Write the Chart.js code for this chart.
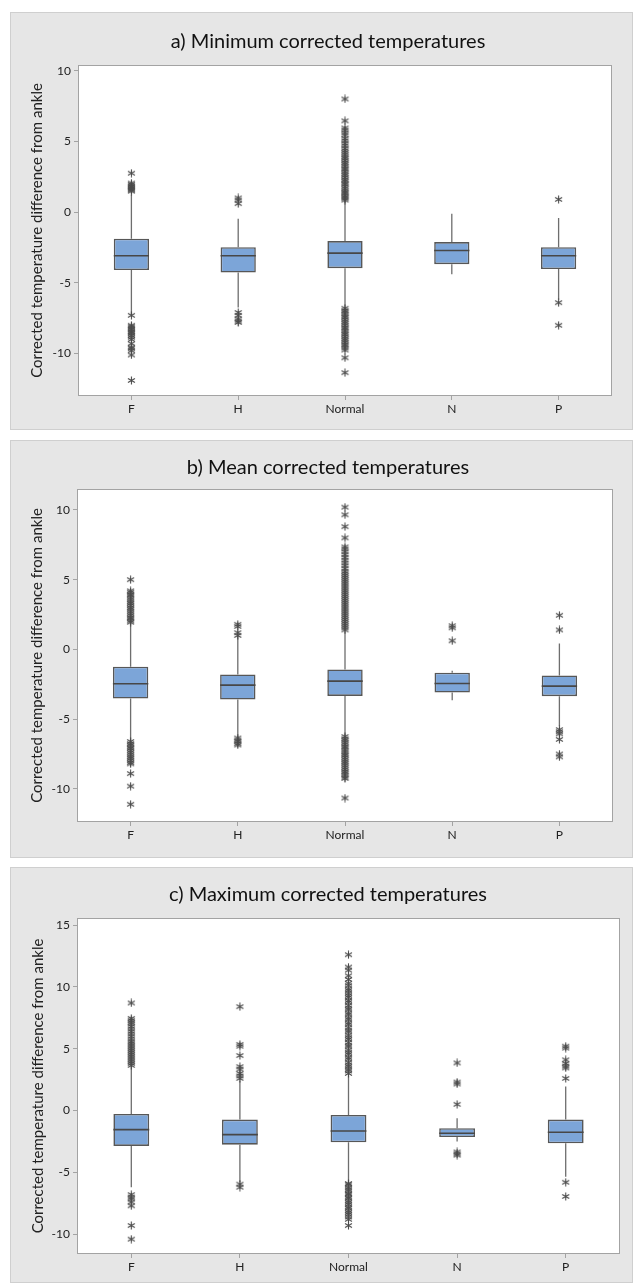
<!DOCTYPE html>
<html>
<head>
<meta charset="utf-8">
<script src="https://cdn.jsdelivr.net/npm/chart.js@4.4.0/dist/chart.umd.min.js"></script>
<style>
  body { margin: 0; background: #fff; width: 633px; height: 1283px; position: relative; overflow: hidden; }
  .panel { position: absolute; left: 10px; width: 623px; background: #e6e6e6; outline: 1px solid #cfcfcf; outline-offset: -1px; }
  .panel canvas { display: block; }
</style>
</head>
<body>
<div class="panel" style="top:12px;height:418px"><canvas id="chartMin" width="623" height="418"></canvas></div>
<div class="panel" style="top:440px;height:418px"><canvas id="chartMean" width="623" height="418"></canvas></div>
<div class="panel" style="top:867px;height:416px"><canvas id="chartMax" width="623" height="416"></canvas></div>
<script>
const categories = ['F', 'H', 'Normal', 'N', 'P'];
const yLabel = 'Corrected temperature difference from ankle';
const ticksAB = [-10, -5, 0, 5, 10];
const ticksC = [-10, -5, 0, 5, 10, 15];

// a) minimum
const minLow = [-7.26, -6.74, -6.67, -4.39, -6.2];
const minQ1 = [-4.1, -4.27, -3.96, -3.68, -4.03];
const minMed = [-3.09, -3.09, -2.9, -2.71, -3.09];
const minQ3 = [-1.88, -2.48, -2.05, -2.12, -2.48];
const minHigh = [1.23, -0.47, 0.76, -0.11, -0.42];
const minOutliers = [
  [2.75, 2.05, 1.95, 1.85, 1.78, 1.7, 1.62, 1.55, 1.48, -7.3, -8.0, -8.1, -8.2, -8.3, -8.42, -8.5, -8.6, -8.72, -8.85, -9.0, -9.3, -9.55, -9.65, -9.8, -10.1, -11.9],
  [1.0, 0.85, 0.6, -7.1, -7.3, -7.55, -7.7, -7.8],
  [8.0, 6.45, 5.95, 5.8, 5.6, 5.45, 5.2, 5.05, 4.85, 4.7, 4.5, 4.35, 4.2, 4.05, 3.9, 3.8, 3.65, 3.5, 3.4, 3.25, 3.1, 3.0, 2.85, 2.7, 2.6, 2.45, 2.3, 2.2, 2.05, 1.95, 1.8, 1.65, 1.5, 1.4, 1.3, 1.15, 1.05, 0.95, 0.85,
   -6.8, -6.95, -7.05, -7.2, -7.35, -7.45, -7.6, -7.75, -7.85, -8.0, -8.15, -8.25, -8.4, -8.55, -8.65, -8.8, -8.95, -9.05, -9.2, -9.35, -9.45, -9.6, -9.75, -10.3, -11.35],
  [],
  [0.9, -6.4, -8.0]
];

// b) mean
const meanLow = [-6.5, -6.27, -6.15, -3.64, -5.5];
const meanQ1 = [-3.52, -3.59, -3.33, -3.09, -3.35];
const meanMed = [-2.46, -2.56, -2.27, -2.44, -2.63];
const meanQ3 = [-1.24, -1.79, -1.44, -1.67, -1.87];
const meanHigh = [1.87, 0.91, 1.27, -1.53, 0.43];
const meanOutliers = [
  [5.0, 4.2, 4.1, 3.95, 3.85, 3.7, 3.55, 3.4, 3.3, 3.15, 3.0, 2.9, 2.75, 2.6, 2.45, 2.3, 2.2, 2.05, 1.95,
   -6.6, -6.75, -6.85, -7.0, -7.1, -7.25, -7.4, -7.55, -7.7, -7.8, -7.95, -8.1, -8.2, -8.9, -9.8, -11.1],
  [1.8, 1.65, 1.2, 1.0, -6.35, -6.5, -6.6, -6.75, -6.85],
  [10.2, 9.65, 8.8, 8.0, 7.35, 7.2, 7.0, 6.8, 6.6, 6.4, 6.2, 6.0, 5.8, 5.6, 5.45, 5.3, 5.15, 5.0, 4.85, 4.7, 4.55, 4.4, 4.25, 4.1, 3.95, 3.8, 3.65, 3.5, 3.35, 3.2, 3.05, 2.9, 2.75, 2.6, 2.45, 2.3, 2.15, 2.0, 1.85, 1.7, 1.55, 1.4,
   -6.25, -6.4, -6.5, -6.65, -6.8, -6.95, -7.05, -7.2, -7.35, -7.5, -7.6, -7.75, -7.9, -8.05, -8.15, -8.3, -8.45, -8.6, -8.75, -8.85, -9.0, -9.15, -9.25, -10.65],
  [1.7, 1.55, 0.62],
  [2.45, 1.4, -5.75, -5.9, -6.05, -6.45, -7.5, -7.7]
];

// c) maximum
const maxLow = [-6.2, -5.8, -5.8, -2.51, -5.35];
const maxQ1 = [-2.86, -2.76, -2.57, -2.14, -2.65];
const maxMed = [-1.54, -1.95, -1.65, -1.84, -1.76];
const maxQ3 = [-0.27, -0.73, -0.35, -1.43, -0.73];
const maxHigh = [3.51, 2.43, 2.84, -0.62, 1.95];
const maxOutliers = [
  [8.7, 7.45, 7.3, 7.15, 7.0, 6.8, 6.6, 6.4, 6.2, 6.0, 5.8, 5.6, 5.45, 5.3, 5.15, 5.0, 4.85, 4.7, 4.55, 4.4, 4.25, 4.1, 3.95, 3.8, 3.65,
   -6.8, -7.0, -7.15, -7.4, -7.7, -9.3, -10.4],
  [8.4, 5.35, 5.2, 4.45, 3.55, 3.35, 3.0, 2.8, 2.6, -5.95, -6.2],
  [12.6, 11.6, 11.35, 10.9, 10.6, 10.3, 10.1, 9.85, 9.7, 9.5, 9.3, 9.15, 8.9, 8.75, 8.5, 8.3, 8.15, 7.9, 7.75, 7.5, 7.35, 7.1, 6.95, 6.7, 6.5, 6.35, 6.1, 5.9, 5.75, 5.5, 5.3, 5.15, 4.9, 4.7, 4.55, 4.3, 4.15, 3.9, 3.7, 3.55, 3.35, 3.2, 3.0,
   -5.9, -6.0, -6.2, -6.35, -6.5, -6.7, -6.8, -7.0, -7.1, -7.3, -7.45, -7.6, -7.8, -7.9, -8.1, -8.25, -8.4, -8.6, -8.8, -9.3],
  [3.85, 2.3, 2.15, 0.5, -3.35, -3.5, -3.6],
  [5.2, 5.05, 4.1, 3.8, 3.6, 3.45, 2.6, -5.8, -6.95]
];

Chart.defaults.font.family = 'Lato';
Chart.defaults.color = '#222';

// minitab style asterisk
function makeStar() {
  const c = document.createElement('canvas');
  c.width = 9; c.height = 9;
  const g = c.getContext('2d');
  g.strokeStyle = '#4a4a4a';
  g.lineWidth = 1.1;
  g.beginPath();
  g.moveTo(4.5, 0.5); g.lineTo(4.5, 8.5);
  g.moveTo(1, 2.5); g.lineTo(8, 6.5);
  g.moveTo(1, 6.5); g.lineTo(8, 2.5);
  g.stroke();
  return c;
}
const star = makeStar();

function buildPanel(id, title, low, q1, med, q3, high, outliers, yMin, yMax, yTicks, geo) {
  const points = [];
  outliers.forEach((list, i) => list.forEach(v => points.push({ x: categories[i], y: v })));

  const boxParts = {
    id: 'boxParts',
    beforeDraw(chart) {
      const { ctx, chartArea: a } = chart;
      ctx.save();
      ctx.fillStyle = '#fff';
      ctx.fillRect(a.left, a.top, a.width, a.height);
      ctx.strokeStyle = '#a3a3a3';
      ctx.lineWidth = 1;
      ctx.strokeRect(a.left + 0.5, a.top + 0.5, a.width - 1, a.height - 1);
      ctx.restore();
    },
    beforeDatasetsDraw(chart) {
      const { ctx, scales: { x, y } } = chart;
      ctx.save();
      ctx.strokeStyle = '#6e6e6e';
      ctx.lineWidth = 1.3;
      categories.forEach((c, i) => {
        const px = x.getPixelForValue(i);
        ctx.beginPath();
        ctx.moveTo(px, y.getPixelForValue(low[i]));
        ctx.lineTo(px, y.getPixelForValue(q1[i]));
        ctx.moveTo(px, y.getPixelForValue(q3[i]));
        ctx.lineTo(px, y.getPixelForValue(high[i]));
        ctx.stroke();
      });
      ctx.restore();
    },
    afterDatasetsDraw(chart) {
      const { ctx, scales: { y } } = chart;
      ctx.save();
      ctx.strokeStyle = '#474747';
      ctx.lineWidth = 1.6;
      chart.getDatasetMeta(0).data.forEach((b, i) => {
        const py = y.getPixelForValue(med[i]);
        ctx.beginPath();
        ctx.moveTo(b.x - b.width / 2, py);
        ctx.lineTo(b.x + b.width / 2, py);
        ctx.stroke();
      });
      ctx.restore();
    }
  };

  return new Chart(document.getElementById(id), {
    type: 'bar',
    data: {
      labels: categories,
      datasets: [
        {
          data: q1.map((v, i) => [v, q3[i]]),
          backgroundColor: '#7ca5d8',
          borderColor: '#575757',
          borderWidth: 1.6,
          borderSkipped: false,
          barPercentage: 0.33,
          categoryPercentage: 1
        },
        {
          type: 'line',
          data: points,
          showLine: false,
          pointStyle: star,
          pointRadius: 4,
          pointBorderWidth: 0
        }
      ]
    },
    options: {
      responsive: false,
      animation: false,
      devicePixelRatio: 1,
      layout: { padding: { left: geo.left, right: geo.right, top: 0, bottom: 0 } },
      plugins: {
        legend: { display: false },
        tooltip: { enabled: false },
        title: {
          display: true,
          text: title,
          color: '#111',
          font: { size: 20, weight: 'normal' },
          padding: { top: geo.titleTop, bottom: geo.titleBottom }
        }
      },
      scales: {
        x: {
          grid: { display: true, drawOnChartArea: false, offset: false, tickLength: 4, color: '#a3a3a3' },
          border: { display: false },
          ticks: { padding: 2, color: '#222', font: { size: 12 } },
          afterFit: s => { s.height = geo.xHeight; }
        },
        y: {
          min: yMin,
          max: yMax,
          afterBuildTicks: s => { s.ticks = yTicks.map(v => ({ value: v })); },
          grid: { display: true, drawOnChartArea: false, tickLength: 4, color: '#a3a3a3' },
          border: { display: false },
          ticks: { padding: 3, color: '#222', font: { size: 12 } },
          title: {
            display: true,
            text: yLabel,
            color: '#222',
            font: { size: 15 },
            padding: { top: geo.yTitle, bottom: 0 }
          },
          afterFit: s => { s.width = geo.yWidth; }
        }
      }
    },
    plugins: [boxParts]
  });
}

buildPanel('chartMin', 'a) Minimum corrected temperatures',
  minLow, minQ1, minMed, minQ3, minHigh, minOutliers, -13.0, 10.4, ticksAB,
  { titleTop: 18, titleBottom: 11, left: 34, right: 21, yWidth: 34, xHeight: 34, yTitle: -16 });

buildPanel('chartMean', 'b) Mean corrected temperatures',
  meanLow, meanQ1, meanMed, meanQ3, meanHigh, meanOutliers, -12.37, 11.5, ticksAB,
  { titleTop: 16, titleBottom: 9, left: 33, right: 20, yWidth: 34, xHeight: 36, yTitle: -15 });

buildPanel('chartMax', 'c) Maximum corrected temperatures',
  maxLow, maxQ1, maxMed, maxQ3, maxHigh, maxOutliers, -11.6, 15.57, ticksC,
  { titleTop: 16, titleBottom: 11, left: 26, right: 13, yWidth: 41, xHeight: 29, yTitle: -7 });
</script>
</body>
</html>
